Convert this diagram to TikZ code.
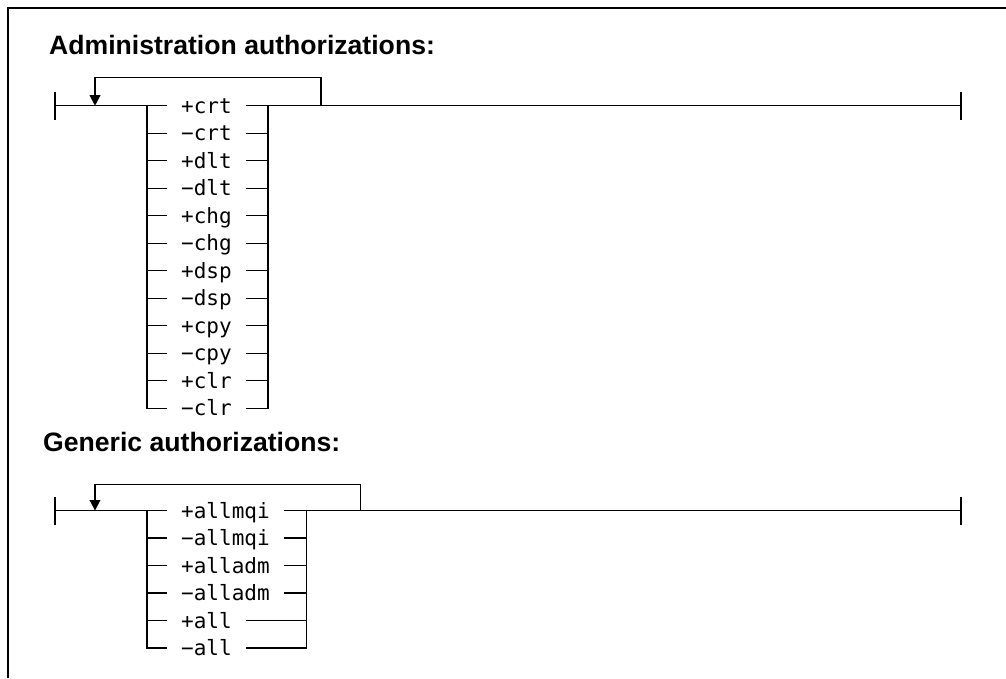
\documentclass[tikz,border=0pt]{standalone}
\usepackage{fontspec}
\setmainfont{Liberation Sans}
\newfontfamily\synmono{DejaVu Sans Mono}
\usetikzlibrary{arrows.meta}
\begin{document}
\begin{tikzpicture}[x=1pt,y=-1pt,
  conn/.style={line width=1.3pt, line cap=rect},
  endtick/.style={line width=2.2pt},
  frame/.style={line width=1.6pt},
  title/.style={anchor=base west, inner sep=0pt, font=\fontsize{26.6}{30}\selectfont\bfseries},
  opt/.style={anchor=west, inner xsep=15pt, inner ysep=0pt, text height=15.2pt, text depth=0pt, font=\fontsize{21}{25}\selectfont\synmono},
  loopar/.style={line width=1.3pt, -{Triangle[width=10.7pt,length=10.5pt]}}]
\useasboundingbox (0,0) rectangle (1006,678);
% frame
\coordinate (fbl) at (8,678);
\coordinate (ftl) at (8,8);
\coordinate (ftr) at (1006,8);
\draw[frame] (fbl) -- (ftl) -- (ftr);

% ---------- Section 1 ----------
\node[title] (title1) at (49,54.3) {Administration authorizations:};
\coordinate (s1) at (55,105.7);
\coordinate (e1) at (961,105.7);
\coordinate (lv1) at (147,105.7);
\coordinate (rv1) at (268,105.7);
\coordinate (lr1) at (321,105.7);
\coordinate (lt1r) at (321,77.3);
\coordinate (lt1l) at (95,77.3);
\coordinate (la1) at (95,105.7);
\draw[endtick] ([yshift=14pt]s1) -- ([yshift=-14pt]s1);
\draw[endtick] ([yshift=14pt]e1) -- ([yshift=-14pt]e1);
\draw[conn] (s1) -- (lv1);
\draw[conn] (rv1) -- (e1);
\draw[loopar] (lr1) -- (lt1r) -- (lt1l) -- (la1);
\foreach \lab [count=\i from 0] in {+crt,−crt,+dlt,−dlt,+chg,−chg,+dsp,−dsp,+cpy,−cpy,+clr,−clr} {
  \coordinate (a\i) at (147,105.7+27.5*\i);
  \node[opt] (o\i) at (166,105.7+27.5*\i) {\lab};
  \draw[conn] (a\i) -- (o\i.west);
  \draw[conn] (o\i.east) -- (o\i.east -| rv1);
}
\draw[conn] (lv1) -- (a11);
\draw[conn] (rv1) -- (rv1 |- a11);

% ---------- Section 2 ----------
\node[title] (title2) at (43,451.7) {Generic authorizations:};
\coordinate (s2) at (55,510.5);
\coordinate (e2) at (961,510.5);
\coordinate (lv2) at (147,510.5);
\coordinate (rv2) at (306.7,510.5);
\coordinate (lr2) at (360.7,510.5);
\coordinate (lt2r) at (360.7,484.3);
\coordinate (lt2l) at (95,484.3);
\coordinate (la2) at (95,510.5);
\draw[endtick] ([yshift=14pt]s2) -- ([yshift=-14pt]s2);
\draw[endtick] ([yshift=14pt]e2) -- ([yshift=-14pt]e2);
\draw[conn] (s2) -- (lv2);
\draw[conn] (rv2) -- (e2);
\draw[loopar] (lr2) -- (lt2r) -- (lt2l) -- (la2);
\foreach \lab [count=\i from 0] in {+allmqi,−allmqi,+alladm,−alladm,+all,−all} {
  \coordinate (b\i) at (147,510.5+27.5*\i);
  \node[opt] (p\i) at (166,510.5+27.5*\i) {\lab};
  \draw[conn] (b\i) -- (p\i.west);
  \draw[conn] (p\i.east) -- (p\i.east -| rv2);
}
\draw[conn] (lv2) -- (b5);
\draw[conn] (rv2) -- (rv2 |- b5);
\end{tikzpicture}
\end{document}
